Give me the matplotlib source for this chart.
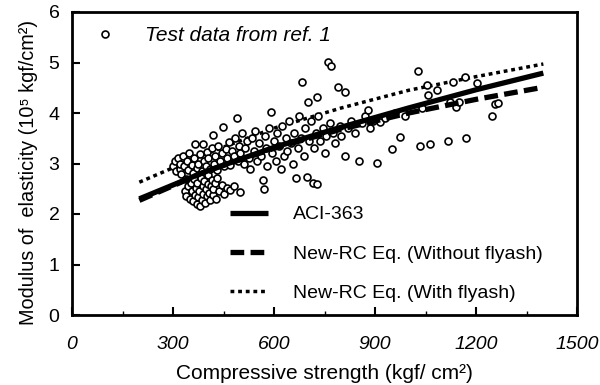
import numpy as np
import matplotlib
matplotlib.use("Agg")
from matplotlib import pyplot as plt
from matplotlib.ticker import MultipleLocator

plt.rcParams['font.family'] = ['Liberation Sans', 'DejaVu Sans']

# test data from ref. 1 (compressive strength, modulus)
test_fc = [335, 340, 345, 350, 352, 355, 360, 362, 365, 368, 370, 372, 375, 378, 380,
           382, 385, 388, 390, 392, 395, 398, 400, 403, 405, 408, 410, 413, 415, 418,
           420, 425, 428, 432, 438, 445, 450, 460, 470, 480,
           300, 305, 310, 315, 320, 322, 325, 330, 332, 338, 342, 345, 348, 355, 358,
           362, 366, 370, 375, 380, 385, 389, 392, 398, 402, 405, 410, 415, 419, 422,
           425, 430, 435, 440, 445, 448, 452, 456, 460, 465, 470, 475, 480, 485, 490,
           492, 495, 499, 500, 505, 510, 515, 520, 525, 530, 535, 540, 545, 550, 555,
           560, 567, 570, 572, 575, 580, 585, 591, 595, 600,
           605, 610, 615, 620, 625, 630, 635, 640, 645, 650, 655, 660, 665, 670, 675,
           680, 683, 688, 692, 698, 701, 705, 710, 716, 720, 725, 728, 728, 732, 738,
           745, 750, 755, 760, 765, 769, 775, 780, 790, 795, 800, 811, 811, 820, 830,
           840, 852, 860, 870, 879, 885, 895,
           906, 915, 930, 950, 960, 974, 990, 1028, 1034, 1040, 1054, 1057, 1063, 1084,
           1117, 1123, 1131, 1140, 1149, 1167, 1170, 1203, 1247, 1256, 1265]
test_ec = [2.45, 2.35, 2.55, 2.30, 2.62, 2.45, 2.25, 2.70, 2.38, 2.52, 2.20, 2.62, 2.33, 2.45, 2.16,
           2.72, 2.28, 2.55, 2.40, 2.65, 2.22, 2.50, 2.35, 2.60, 2.78, 2.42, 2.28, 2.55, 2.68, 2.38,
           2.50, 2.62, 2.30, 2.72, 2.45, 2.58, 2.40, 2.52, 2.47, 2.55,
           2.95, 3.05, 2.85, 3.10, 2.90, 3.00, 2.80, 3.15, 2.95, 2.70, 3.05, 2.88, 3.20, 2.98, 2.82,
           3.10, 3.38, 2.92, 3.00, 3.18, 2.85, 3.39, 3.05, 2.95, 3.22, 3.10, 2.90, 3.30, 3.56, 3.00,
           3.15, 2.88, 3.35, 3.05, 3.20, 3.72, 2.95, 3.28, 3.10, 3.42, 2.98, 3.25, 3.15, 3.50, 3.90,
           3.05, 3.35, 2.44, 3.20, 3.60, 3.00, 3.30, 3.45, 3.10, 2.90, 3.50, 3.25, 3.65, 3.05, 3.40,
           3.15, 2.67, 2.50, 3.55, 3.30, 2.95, 3.70, 4.02, 3.20, 3.45,
           3.05, 3.60, 3.35, 2.90, 3.75, 3.15, 3.50, 3.25, 3.85, 3.40, 3.00, 3.60, 2.71, 3.30, 3.95,
           3.50, 4.61, 3.15, 3.70, 2.73, 4.22, 3.45, 3.85, 2.61, 3.30, 3.60, 2.59, 4.32, 3.95, 3.45,
           3.70, 3.20, 3.55, 5.01, 3.80, 4.93, 3.60, 3.40, 4.51, 3.75, 3.55, 4.42, 3.15, 3.70, 3.85,
           3.60, 3.05, 3.80, 3.95, 4.06, 3.70, 3.85,
           3.01, 3.82, 3.90, 3.29, 4.00, 3.52, 3.95, 4.83, 3.35, 4.10, 4.55, 4.36, 3.39, 4.46,
           3.45, 4.22, 4.61, 4.12, 4.22, 4.71, 3.50, 4.59, 3.94, 4.18, 4.20]

# prediction curves
curve_fc = [200, 400, 600, 800, 1000, 1200, 1400]
aci363 = [2.30, 2.85, 3.32, 3.72, 4.10, 4.46, 4.79]
newrc_without = [2.27, 2.85, 3.30, 3.68, 4.00, 4.27, 4.51]
newrc_with = [2.63, 3.20, 3.70, 4.10, 4.45, 4.72, 4.97]

fig = plt.figure(figsize=(6, 3.85), dpi=100)
ax = fig.add_axes([72/600, 70/385, 505/600, 303/385])

l3, = ax.plot(curve_fc, newrc_with, color='black', lw=2.5, linestyle=(0, (1.1, 1.1)),
              dash_capstyle='butt', zorder=1, label='New-RC Eq. (With flyash)')
pts, = ax.plot(test_fc, test_ec, 'o', ms=5, mfc='white', mec='black', mew=1.2, zorder=2,
               label='Test data from ref. 1')
l1, = ax.plot(curve_fc, aci363, color='black', lw=3.8, solid_capstyle='butt', zorder=3,
              label='ACI-363')
l2, = ax.plot(curve_fc, newrc_without, color='black', lw=3.8, linestyle=(0, (2.6, 1.2)),
              dash_capstyle='butt', zorder=3, label='New-RC Eq. (Without flyash)')

ax.set_xlim(0, 1500)
ax.set_ylim(0, 6)
ax.xaxis.set_major_locator(MultipleLocator(300))
ax.xaxis.set_minor_locator(MultipleLocator(150))
ax.yaxis.set_major_locator(MultipleLocator(1))
ax.tick_params(direction='in', length=6, width=1.5, labelsize=14)
ax.tick_params(which='minor', direction='in', length=3, width=1)
ax.tick_params(axis='x', pad=15)
ax.tick_params(axis='y', pad=9)
for lab in ax.get_xticklabels():
    lab.set_style('italic')
for sp in ax.spines.values():
    sp.set_linewidth(2)

ax.set_xlabel('Compressive strength (kgf/ cm²)', fontsize=15)
ax.set_ylabel('Modulus of  elasticity (10⁵ kgf/cm²)', fontsize=14.3)
ax.xaxis.set_label_coords(0.5, -0.161)
ax.yaxis.set_label_coords(-0.068, 0.47)

leg1 = ax.legend(handles=[pts], loc='upper left', bbox_to_anchor=(0.028, 0.981), frameon=False,
                 handlelength=1.0, handletextpad=1.42, borderaxespad=0,
                 prop={'style': 'italic', 'size': 15})
ax.add_artist(leg1)
ax.legend(handles=[l1, l2, l3], loc='upper left', bbox_to_anchor=(0.297, 0.386), frameon=False,
          fontsize=14, handlelength=1.95, handletextpad=1.29, labelspacing=1.11, borderaxespad=0)

plt.savefig('out.png')
